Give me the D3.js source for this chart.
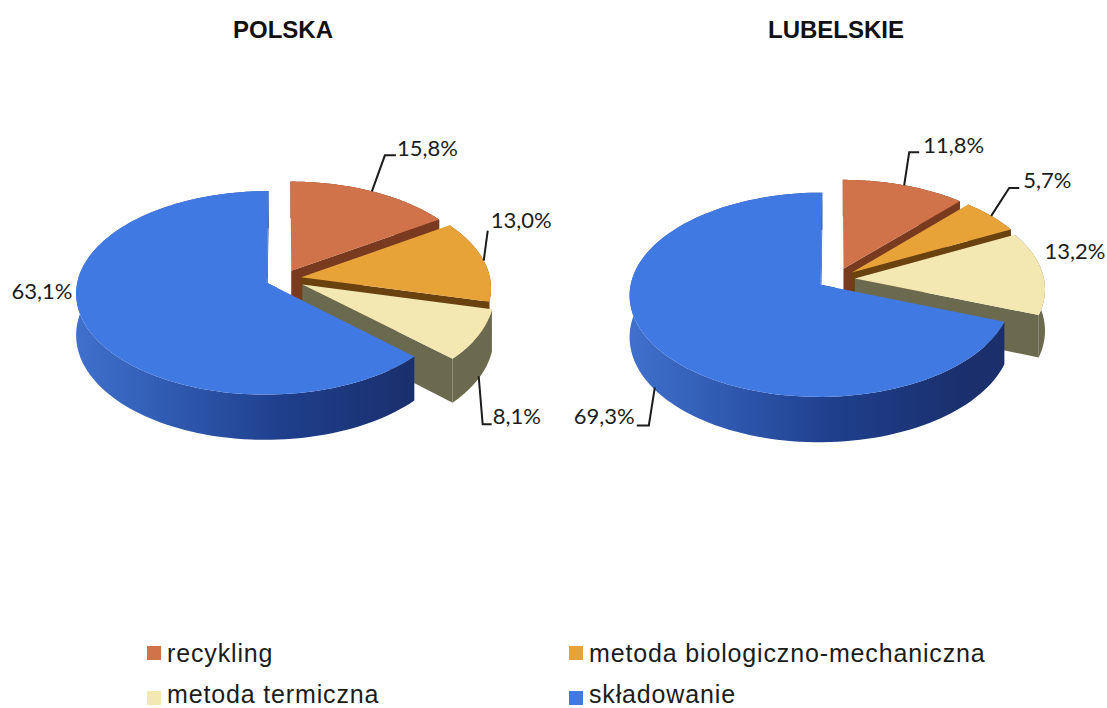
<!DOCTYPE html>
<html><head><meta charset="utf-8">
<script src="https://cdn.jsdelivr.net/npm/d3@7"></script>
<style>html,body{margin:0;padding:0;background:#fff}svg{display:block}</style>
</head><body><svg id="c" width="1107" height="708"></svg>
<script>
const categories = ["recykling", "metoda biologiczno-mechaniczna", "metoda termiczna", "składowanie"];
const polska = [15.8, 13.0, 8.1, 63.1];
const lubelskie = [11.8, 5.7, 13.2, 69.3];
const chartTitles = ["POLSKA", "LUBELSKIE"];

const topColors = ["#D0724A", "#E8A338", "#F3E8B2", "#4179E3"];
const wallColors = ["#7A3A20", "#6A4210", "#6C6A4E", "#1E3A82"];

const fmt = v => v.toFixed(1).replace(".", ",") + "%";
const svg = d3.select("#c");
const defs = svg.append("defs");
const R = 189, Ry = 101, K = 0.1, depth = 41;
const FONT = "Lato, 'Noto Sans', sans-serif";

const pie = d3.pie().sort(null).value(d => d);
const color = d3.scaleOrdinal(categories, topColors);
const wall = d3.scaleOrdinal(categories, wallColors);
const line = d3.line().curve(d3.curveLinear);

function drawPie(idx, values, cx, cy, title, titleX, explosions, labelLayout) {
  const g = svg.append("g");
  const project = (X, Y, z) => {
    const f = 1 - K * Y;
    return [cx + R * X * f, cy - Ry * Y * f + depth * z * f];
  };
  const gid = "bw" + idx;
  const grad = defs.append("linearGradient").attr("id", gid)
    .attr("gradientUnits", "userSpaceOnUse")
    .attr("x1", cx - R - 15).attr("x2", cx + R * 0.7).attr("y1", 0).attr("y2", 0);
  grad.append("stop").attr("offset", 0).attr("stop-color", "#3F70CC");
  grad.append("stop").attr("offset", 0.3).attr("stop-color", "#2E58AE");
  grad.append("stop").attr("offset", 0.6).attr("stop-color", "#1F3F8C");
  grad.append("stop").attr("offset", 1).attr("stop-color", "#1A2F6C");

  const arcs = pie(values);
  arcs.forEach((a, i) => {
    const mid = (a.startAngle + a.endAngle) / 2;
    const e = explosions[i] / R;
    const ox = e * Math.sin(mid), oy = e * Math.cos(mid);
    const pt = (ang, r, z) => project(ox + r * Math.sin(ang), oy + r * Math.cos(ang), z);
    const angs = d3.range(0, 121).map(t => a.startAngle + (a.endAngle - a.startAngle) * t / 120);
    const rim = angs.map(t => pt(t, 1, 0));
    const cat = categories[i];
    const isBlue = i === 3;

    g.append("path").attr("fill", wall(cat))
      .attr("d", line([pt(a.endAngle, 0, 0), pt(a.endAngle, 1, 0), pt(a.endAngle, 1, 1), pt(a.endAngle, 0, 1)]) + "Z");
    g.append("path").attr("fill", wall(cat))
      .attr("d", line([pt(0, 0, 0), pt(0, 0, 1), pt(a.startAngle, 0, 1), pt(a.startAngle, 0.08, 1), pt(a.startAngle, 0.08, 0)]) + "Z");
    const lower = angs.map(t => pt(t, 1, 1)).reverse();
    g.append("path").attr("fill", isBlue ? `url(#${gid})` : wall(cat))
      .attr("d", line(rim.concat(lower)) + "Z");
    g.append("path").attr("fill", color(cat))
      .attr("d", line([pt(0, 0, 0)].concat(rim)) + "Z");

    const L = labelLayout[i];
    const anchor = pt(mid, 1, L.wall ? L.wall : 0);
    if (L.bend) {
      const b = [anchor[0] + L.bend[0], anchor[1] + L.bend[1]];
      const en = [b[0] + L.tail, b[1]];
      g.append("path").attr("fill", "none").attr("stroke", "#1c1c1c").attr("stroke-width", 2)
        .attr("d", line([anchor, b, en]));
    }
    g.append("text").attr("x", anchor[0] + L.dx).attr("y", anchor[1] + L.dy)
      .attr("font-family", FONT).attr("font-size", 22).attr("fill", "#1c1c1c")
      .text(fmt(values[i]));
  });

  g.append("text").attr("x", titleX).attr("y", 38).attr("text-anchor", "middle")
    .attr("font-family", "'Liberation Sans', Arial, sans-serif").attr("font-weight", "bold")
    .attr("font-size", 24).attr("fill", "#111").text(title);
}

drawPie(0, polska, 283, 279, chartTitles[0], 283, [17.5, 18.5, 22, 17.5], [
  {bend: [13, -36], tail: 11, dx: 25, dy: -35},
  {bend: [4, -30], tail: 0, dx: 7, dy: -33},
  {wall: 0.95, bend: [4, 48], tail: 9, dx: 14, dy: 48},
  {dx: -74, dy: -26}
]);
drawPie(1, lubelskie, 836, 279, chartTitles[1], 836, [21, 20, 19, 18.5], [
  {bend: [5, -33], tail: 10, dx: 19, dy: -32},
  {bend: [18, -28], tail: 10, dx: 32, dy: -28},
  {dx: 2, dy: -14},
  {wall: 0.95, bend: [-6, 38], tail: -12, dx: -81, dy: 36}
]);

// Legend
const legendCol = d3.scalePoint().domain([0, 1]).range([147, 569]);
const legendRow = d3.scalePoint().domain([0, 1]).range([653, 698]);
const lg = svg.append("g").selectAll("g").data(categories).join("g")
  .attr("transform", (d, i) => `translate(${legendCol(i % 2)},${legendRow(Math.floor(i / 2))})`);
lg.append("rect").attr("x", 0).attr("y", -7).attr("width", 14).attr("height", 14)
  .attr("fill", d => color(d));
lg.append("text").attr("x", 20).attr("y", (d, i) => i < 2 ? 8.5 : 4.5)
  .attr("font-family", "'Liberation Sans', Arial, sans-serif").attr("font-size", 25)
  .attr("letter-spacing", 0.85)
  .attr("fill", "#1c1c1c").text(d => d);
</script></body></html>
